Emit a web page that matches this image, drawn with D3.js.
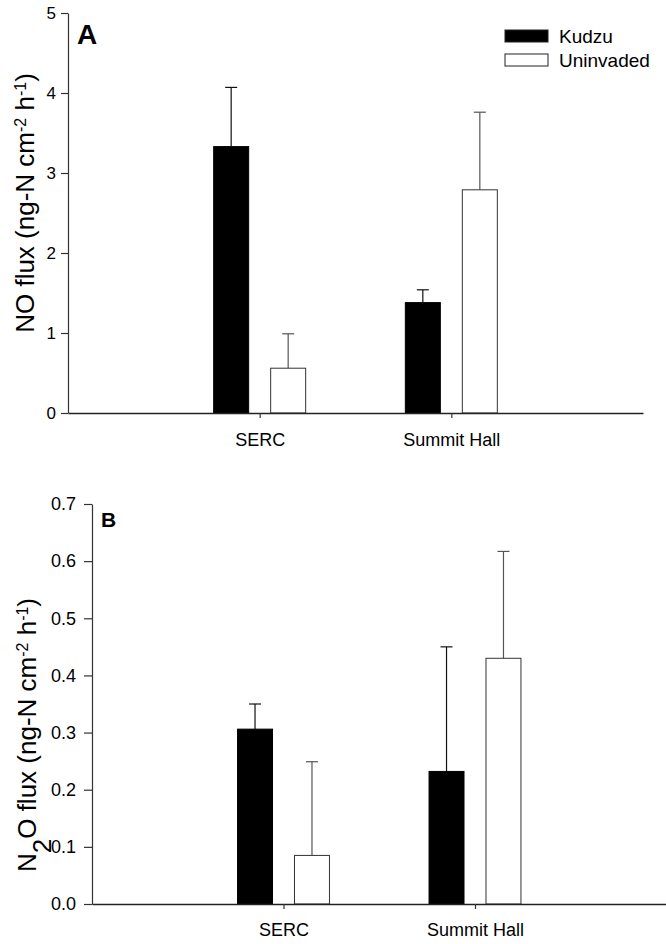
<!DOCTYPE html>
<html>
<head>
<meta charset="utf-8">
<script src="https://cdn.jsdelivr.net/npm/d3@7"></script>
<style>
  html, body { margin: 0; padding: 0; background: #fff; }
  svg { display: block; }
  text { font-family: "Liberation Sans", Arial, Helvetica, sans-serif; fill: #000; }
</style>
</head>
<body>
<div id="chart"></div>
<script>
// Sites and treatments
const categories = ["SERC", "Summit Hall"];
const series = ["Kudzu", "Uninvaded"];

// Panel A: NO flux (mean and standard error)
const noKudzu = [3.33, 1.38];
const noKudzuErr = [0.74, 0.16];
const noUninvaded = [0.56, 2.79];
const noUninvadedErr = [0.43, 0.97];
const noTicks = [0, 1, 2, 3, 4, 5];

// Panel B: N2O flux (mean and standard error)
const n2oKudzu = [0.306, 0.232];
const n2oKudzuErr = [0.044, 0.218];
const n2oUninvaded = [0.085, 0.430];
const n2oUninvadedErr = [0.164, 0.187];
const n2oTicks = [0, 0.1, 0.2, 0.3, 0.4, 0.5, 0.6, 0.7];

const W = 666, H = 944;
const svg = d3.select("#chart").append("svg").attr("width", W).attr("height", H);

const fills = { Kudzu: "#000", Uninvaded: "#fff" };
const errColor = { Kudzu: "#111", Uninvaded: "#555" };

function panel(opt) {
  const g = svg.append("g");
  const x = d3.scaleLinear().domain([0, 3]).range([opt.left, opt.right]);
  const y = d3.scaleLinear().domain(opt.domain).range([opt.bottom, opt.top]);
  const groupPx = x(1.48) - x(1);
  const inner = d3.scaleBand().domain(series).range([-groupPx / 2, groupPx / 2]).paddingInner(0.386);

  const rows = [];
  categories.forEach((c, i) => {
    rows.push({ cat: c, i, s: "Kudzu", v: opt.kudzu[i], e: opt.kudzuErr[i] });
    rows.push({ cat: c, i, s: "Uninvaded", v: opt.uninv[i], e: opt.uninvErr[i] });
  });
  const cx = d => x(d.i + 1) + inner(d.s) + inner.bandwidth() / 2;

  // error bars (upper only)
  const capHalf = 6;
  const eb = g.selectAll("g.err").data(rows).enter().append("g").attr("class", "err");
  eb.append("line")
    .attr("x1", cx).attr("x2", cx)
    .attr("y1", d => y(d.v)).attr("y2", d => y(d.v + d.e))
    .attr("stroke", d => errColor[d.s]).attr("stroke-width", 1.2);
  eb.append("line")
    .attr("x1", d => cx(d) - capHalf).attr("x2", d => cx(d) + capHalf)
    .attr("y1", d => y(d.v + d.e)).attr("y2", d => y(d.v + d.e))
    .attr("stroke", d => errColor[d.s]).attr("stroke-width", 1.2);

  // bars
  g.selectAll("rect.bar").data(rows).enter().append("rect").attr("class", "bar")
    .attr("x", d => x(d.i + 1) + inner(d.s))
    .attr("width", inner.bandwidth())
    .attr("y", d => y(d.v))
    .attr("height", d => y(0) - y(d.v))
    .attr("fill", d => fills[d.s])
    .attr("stroke", d => d.s === "Kudzu" ? "#000" : "#333")
    .attr("stroke-width", 1);

  // y axis
  const ya = g.append("g").attr("transform", `translate(${opt.left},0)`)
    .call(d3.axisLeft(y).tickValues(opt.ticks).tickFormat(opt.fmt)
      .tickSize(opt.tickLen).tickSizeOuter(0).tickPadding(opt.tickPad));
  ya.select(".domain").attr("stroke", "#333").attr("stroke-width", 1.2);
  ya.selectAll(".tick line").attr("stroke", "#333").attr("stroke-width", 1.2);
  ya.selectAll(".tick text").style("font-size", opt.tickFont + "px").attr("fill", "#000");

  // x axis
  const xa = g.append("g").attr("transform", `translate(0,${opt.bottom})`)
    .call(d3.axisBottom(x).tickValues([1, 2]).tickFormat(d => categories[d - 1])
      .tickSize(5).tickSizeOuter(0).tickPadding(opt.xPad));
  xa.select(".domain").attr("stroke", "#222").attr("stroke-width", 1.4);
  xa.selectAll(".tick line").attr("stroke", "#333").attr("stroke-width", 1.2);
  xa.selectAll(".tick text").style("font-size", "18px").attr("fill", "#000");

  // panel letter
  g.append("text").attr("x", opt.letterX).attr("y", opt.letterY)
    .style("font-size", opt.letterSize + "px").style("font-weight", "bold").text(opt.letter);

  // y title
  const t = g.append("text")
    .attr("transform", `translate(${opt.titleX},${opt.titleY}) rotate(-90)`)
    .attr("text-anchor", "middle").style("font-size", "26px");
  opt.title(t);
  return g;
}

const sup = (t, s) => t.append("tspan").attr("baseline-shift", "super").style("font-size", "16px").text(s);

panel({
  left: 68, right: 643, top: 13, bottom: 413, domain: [0, 5],
  kudzu: noKudzu, kudzuErr: noKudzuErr, uninv: noUninvaded, uninvErr: noUninvadedErr,
  ticks: noTicks, fmt: d3.format("d"), tickFont: 17, tickLen: 7, tickPad: 5, xPad: 15,
  letter: "A", letterX: 77, letterY: 44, letterSize: 28,
  titleX: 34, titleY: 203,
  title: t => {
    t.append("tspan").text("NO flux (ng-N cm");
    sup(t, "-2");
    t.append("tspan").text(" h");
    sup(t, "-1");
    t.append("tspan").text(")");
  }
});

panel({
  left: 92, right: 666.5, top: 504, bottom: 904, domain: [0, 0.7],
  kudzu: n2oKudzu, kudzuErr: n2oKudzuErr, uninv: n2oUninvaded, uninvErr: n2oUninvadedErr,
  ticks: n2oTicks, fmt: d3.format(".1f"), tickFont: 18, tickLen: 8, tickPad: 8, xPad: 14,
  letter: "B", letterX: 101, letterY: 527, letterSize: 21,
  titleX: 36, titleY: 735,
  title: t => {
    t.append("tspan").text("N");
    t.append("tspan").attr("baseline-shift", "sub").text("2");
    t.append("tspan").text("O flux (ng-N cm");
    sup(t, "-2");
    t.append("tspan").text(" h");
    sup(t, "-1");
    t.append("tspan").text(")");
  }
});

// legend
const legend = svg.append("g");
const legendY = d3.scalePoint().domain(series).range([36, 60]);
legend.selectAll("rect").data(series).enter().append("rect")
  .attr("x", 505).attr("y", d => legendY(d) - 6).attr("width", 43).attr("height", 12)
  .attr("fill", d => fills[d]).attr("stroke", "#222").attr("stroke-width", 1);
legend.selectAll("text").data(series).enter().append("text")
  .attr("x", 559).attr("y", d => legendY(d) + 7)
  .style("font-size", "19px").text(d => d);
</script>
</body>
</html>
